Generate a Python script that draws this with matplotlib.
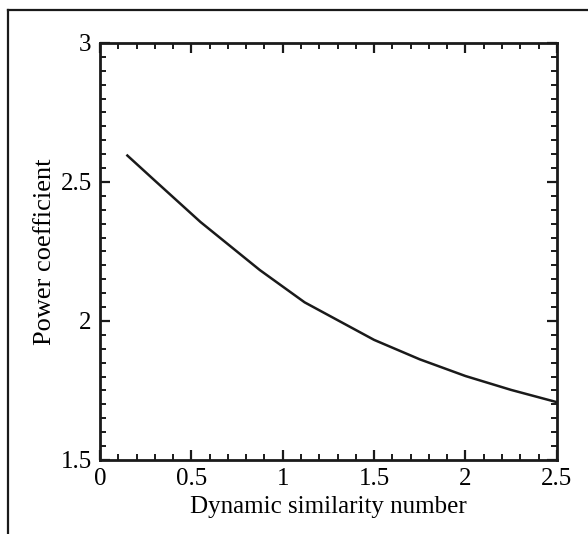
import matplotlib
matplotlib.use('Agg')
import matplotlib.pyplot as plt
from matplotlib.ticker import MultipleLocator, FuncFormatter
from matplotlib.lines import Line2D

# data
dsn = [0.15, 0.3, 0.55, 0.875, 1.12, 1.5, 1.75, 2.0, 2.25, 2.5]
power_coef = [2.595, 2.505, 2.356, 2.183, 2.067, 1.932, 1.862, 1.802, 1.752, 1.708]

plt.rcParams['font.family'] = ['Liberation Serif', 'DejaVu Serif']
plt.rcParams['font.size'] = 18

fig = plt.figure(figsize=(5.88, 5.34), dpi=100)
ax = fig.add_axes([0.170, 0.1386, 0.777, 0.781])

ax.plot(dsn, power_coef, color='#1a1a1a', lw=1.8)

ax.set_xlim(0, 2.5)
ax.set_ylim(1.5, 3)
ax.xaxis.set_major_locator(MultipleLocator(0.5))
ax.xaxis.set_minor_locator(MultipleLocator(0.1))
ax.yaxis.set_major_locator(MultipleLocator(0.5))
ax.yaxis.set_minor_locator(MultipleLocator(0.05))
ax.xaxis.set_major_formatter(FuncFormatter(lambda v, p: f'{v:g}'))
ax.yaxis.set_major_formatter(FuncFormatter(lambda v, p: f'{v:g}'))

ax.tick_params(which='both', direction='in', top=True, right=True, color='#1a1a1a')
ax.tick_params(which='major', length=7, width=1.6, pad=6)
ax.tick_params(which='minor', length=4, width=1.4)
for s in ax.spines.values():
    s.set_linewidth(2.0)
    s.set_color('#1a1a1a')

ax.set_xlabel('Dynamic similarity number', labelpad=4)
ax.set_ylabel('Power coefficient', fontsize=19, labelpad=3)

# outer frame (left and top only, as cropped)
fig.add_artist(Line2D([8/588, 8/588], [0, 1 - 10/534], color='#1a1a1a', lw=1.6))
fig.add_artist(Line2D([8/588, 1], [1 - 10/534, 1 - 10/534], color='#1a1a1a', lw=1.6))

fig.savefig('out.png', dpi=100)
